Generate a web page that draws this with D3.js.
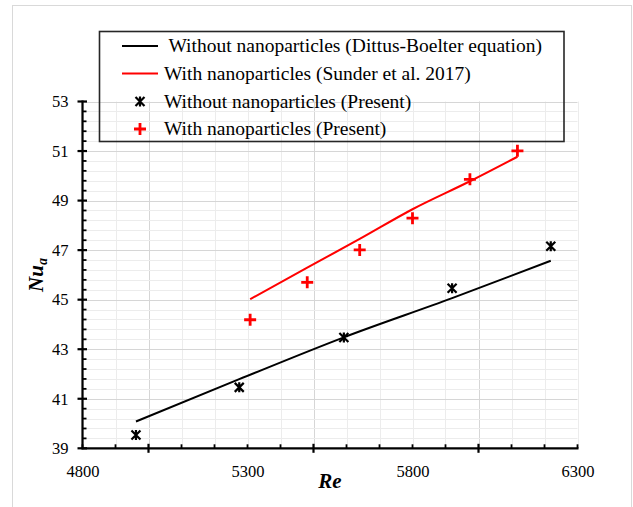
<!DOCTYPE html>
<html>
<head>
<meta charset="utf-8">
<script src="https://cdn.jsdelivr.net/npm/d3@7"></script>
<style>
  html, body { margin: 0; padding: 0; background: #fff; }
  svg { display: block; }
  text { font-family: "Liberation Serif", "Times New Roman", serif; fill: #000; }
</style>
</head>
<body>
<svg id="chart" width="633" height="507"></svg>
<script>
// Reynolds numbers and average Nusselt numbers
const reBase = [4962, 5275, 5592, 5920, 6219];
const nuDittusBoelter = [40.08, 41.79, 43.48, 45.06, 46.57];
const nuBasePresent = [39.54, 41.46, 43.47, 45.46, 47.16];

const reNano = [5308, 5481, 5640, 5800, 5974, 6118];
const nuSunder = [45.02, 46.29, 47.45, 48.65, 49.78, 50.77];
const nuNanoPresent = [44.19, 45.70, 47.01, 48.29, 49.86, 51.01];

const xTicks = [4800, 5300, 5800, 6300];
const yTicks = [39, 41, 43, 45, 47, 49, 51, 53];

const legendLabels = [
  "Without nanoparticles (Dittus-Boelter equation)",
  "With nanoparticles (Sunder et al. 2017)",
  "Without nanoparticles (Present)",
  "With nanoparticles (Present)"
];

const svg = d3.select("#chart");

// outer chart frame
svg.append("rect")
  .attr("x", 12.5).attr("y", 5.5)
  .attr("width", 619).attr("height", 510)
  .attr("fill", "#fff").attr("stroke", "#d9d9d9").attr("stroke-width", 1);

const x = d3.scaleLinear().domain([4800, 6300]).range([82.5, 577.5]);
const y = d3.scaleLinear().domain([39, 53]).range([448.3, 101.5]);

// gridlines: minor every 100 / 0.4, major every 500 / 2
const xMinor = d3.range(4800, 6300.1, 100);
const yMinor = d3.range(0, 35.1, 1).map(i => 39 + i * 0.4);
const grid = svg.append("g");
grid.selectAll("line.xm").data(xMinor).join("line")
  .attr("x1", d => Math.round(x(d)) + 0.5).attr("x2", d => Math.round(x(d)) + 0.5)
  .attr("y1", y(53)).attr("y2", y(39))
  .attr("stroke", d => (d % 500 === 0) ? "#d6d6d6" : "#ececec").attr("stroke-width", 1);
grid.selectAll("line.ym").data(yMinor).join("line")
  .attr("y1", d => Math.round(y(d)) + 0.5).attr("y2", d => Math.round(y(d)) + 0.5)
  .attr("x1", x(4800)).attr("x2", x(6300))
  .attr("stroke", (d, i) => (i % 5 === 0) ? "#d6d6d6" : "#ececec").attr("stroke-width", 1);

// axes
const fontTick = 16.5;
const xAxisG = svg.append("g").attr("transform", `translate(0,${y(39)})`);
xAxisG.call(d3.axisBottom(x).tickValues(xTicks).tickSize(0).tickPadding(17).tickFormat(d3.format("d")));
xAxisG.select(".domain").remove();
xAxisG.selectAll("text").style("font-size", fontTick + "px").style("font-family", "Liberation Serif, serif").attr("fill", "#000");

const yAxisG = svg.append("g").attr("transform", `translate(${x(4800)},0)`);
yAxisG.call(d3.axisLeft(y).tickValues(yTicks).tickSize(0).tickPadding(14).tickFormat(d3.format("d")));
yAxisG.select(".domain").remove();
yAxisG.selectAll("text").style("font-size", fontTick + "px").style("font-family", "Liberation Serif, serif").attr("fill", "#000");

// axis lines and tick marks
const ax = svg.append("g").attr("stroke", "#000");
ax.append("line").attr("x1", x(4800) - 1).attr("x2", x(6300) + 1)
  .attr("y1", y(39)).attr("y2", y(39)).attr("stroke-width", 2.2);
ax.append("line").attr("x1", x(4800)).attr("x2", x(4800))
  .attr("y1", y(53) - 1).attr("y2", y(39) + 1).attr("stroke-width", 2.2);
ax.selectAll("line.xt").data(xMinor).join("line")
  .attr("x1", d => x(d)).attr("x2", d => x(d))
  .attr("y1", d => (d % 500 === 0) ? y(39) - 4.5 : y(39) - 4)
  .attr("y2", d => (d % 500 === 0) ? y(39) + 4.5 : y(39))
  .attr("stroke-width", d => (d % 500 === 0) ? 2.2 : 1.8);
ax.selectAll("line.yt").data(yMinor).join("line")
  .attr("y1", d => y(d)).attr("y2", d => y(d))
  .attr("x1", (d, i) => (i % 5 === 0) ? x(4800) - 5 : x(4800))
  .attr("x2", (d, i) => (i % 5 === 0) ? x(4800) + 4.5 : x(4800) + 4)
  .attr("stroke-width", (d, i) => (i % 5 === 0) ? 2.2 : 1.8);

// axis titles
svg.append("text")
  .attr("x", (x(4800) + x(6300)) / 2).attr("y", 488)
  .attr("text-anchor", "middle")
  .style("font-size", "21px").style("font-weight", "bold").style("font-style", "italic")
  .text("Re");

const yTitle = svg.append("text")
  .attr("transform", "translate(43,275) rotate(-90)")
  .attr("text-anchor", "middle")
  .style("font-size", "21px").style("font-weight", "bold").style("font-style", "italic");
yTitle.append("tspan").text("Nu");
yTitle.append("tspan").attr("dy", 4).style("font-size", "14px").text("a");

// curves
const lineBase = d3.line().x((d, i) => x(reBase[i])).y(d => y(d)).curve(d3.curveMonotoneX);
const lineNano = d3.line().x((d, i) => x(reNano[i])).y(d => y(d)).curve(d3.curveMonotoneX);
svg.append("path").datum(nuDittusBoelter).attr("d", lineBase)
  .attr("fill", "none").attr("stroke", "#000").attr("stroke-width", 2);
svg.append("path").datum(nuSunder).attr("d", lineNano)
  .attr("fill", "none").attr("stroke", "#ff0000").attr("stroke-width", 2);

// marker shapes
function starMarker(g, cx, cy) {
  const s = 4.5;
  g.append("path")
    .attr("d", `M${cx - s},${cy - s}L${cx + s},${cy + s}M${cx - s},${cy + s}L${cx + s},${cy - s}M${cx},${cy - s - 0.5}L${cx},${cy + s + 0.5}`)
    .attr("stroke", "#000").attr("stroke-width", 2.2).attr("fill", "none");
}
function plusMarker(g, cx, cy) {
  const s = 6;
  g.append("path")
    .attr("d", `M${cx - s},${cy}L${cx + s},${cy}M${cx},${cy - s}L${cx},${cy + s}`)
    .attr("stroke", "#ff0000").attr("stroke-width", 2.8).attr("fill", "none");
}

const marks = svg.append("g");
nuBasePresent.forEach((v, i) => starMarker(marks, x(reBase[i]), y(v)));
nuNanoPresent.forEach((v, i) => plusMarker(marks, x(reNano[i]), y(v)));

// legend (no fill, gridlines show through)
const lg = svg.append("g");
lg.append("rect").attr("x", 99.5).attr("y", 31.5).attr("width", 464.5).attr("height", 110)
  .attr("fill", "none").attr("stroke", "#262626").attr("stroke-width", 1.6);
const rowY = [46, 73.5, 101.5, 129];
const legendFont = 19.5;
lg.append("line").attr("x1", 122).attr("x2", 158).attr("y1", rowY[0]).attr("y2", rowY[0])
  .attr("stroke", "#000").attr("stroke-width", 2);
lg.append("line").attr("x1", 122).attr("x2", 158).attr("y1", rowY[1]).attr("y2", rowY[1])
  .attr("stroke", "#ff0000").attr("stroke-width", 2);
starMarker(lg, 140, rowY[2]);
plusMarker(lg, 140, rowY[3]);
legendLabels.forEach((t, i) => {
  lg.append("text")
    .attr("x", i === 0 ? 168.5 : 164)
    .attr("y", rowY[i])
    .attr("dy", "0.33em")
    .style("font-size", legendFont + "px")
    .text(t);
});
</script>
</body>
</html>
